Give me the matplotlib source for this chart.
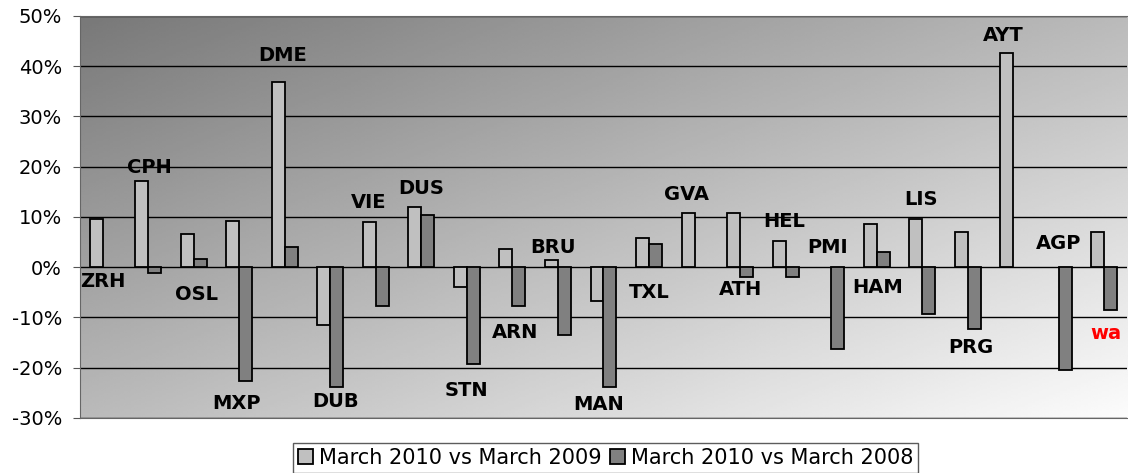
import numpy as np
import matplotlib
matplotlib.use('Agg')
import matplotlib.pyplot as plt
from matplotlib.ticker import PercentFormatter

plt.rcParams['axes.unicode_minus'] = False

nan = float('nan')

airports = ['ZRH', 'CPH', 'OSL', 'MXP', 'DME', 'DUB', 'VIE', 'DUS', 'STN', 'ARN', 'BRU', 'MAN',
            'TXL', 'GVA', 'ATH', 'HEL', 'PMI', 'HAM', 'LIS', 'PRG', 'AYT', 'AGP', 'wa']

# % change, March 2010 vs March 2009 (nan = no bar)
vs_2009 = [9.6, 17.1, 6.6, 9.3, 36.8, -11.5, 9.0, 11.9, -4.0, 3.7, 1.5, -6.7,
           5.9, 10.7, 10.8, 5.2, nan, 8.6, 9.6, 7.0, 42.7, nan, 7.0]
# % change, March 2010 vs March 2008
vs_2008 = [nan, -1.2, 1.6, -22.7, 4.1, -23.8, -7.8, 10.3, -19.3, -7.8, -13.4, -23.8,
           4.7, nan, -1.9, -1.9, -16.3, 3.0, -9.3, -12.3, nan, -20.4, -8.6]

# where each airport name sits (value axis) and small sideways nudge
label_y = [-2.8, 19.9, -5.5, -27.2, 42.2, -26.8, 12.9, 15.7, -24.6, -13.0, 3.9, -27.4,
           -5.0, 14.4, -4.5, 9.2, 3.9, -4.1, 13.5, -16.0, 46.2, 4.7, -13.2]
label_dx = [0.0, 0.02, 0.05, -0.07, -0.04, 0.12, -0.15, 0.0, 0.0, 0.05, -0.11, -0.1,
            0.0, -0.17, 0.02, -0.04, -0.07, 0.03, -0.02, 0.07, -0.22, 0.0, 0.04]

fig = plt.figure(figsize=(11.28, 4.73), dpi=100)
ax = fig.add_axes([0.0709, 0.1163, 0.9282, 0.8499])

# diagonal grey gradient background
u = np.linspace(0, 1, 300)
d = np.linspace(0, 1, 200)
U, D = np.meshgrid(u, d)
grad = 120 + 132 * (U + D) / 2
ax.imshow(grad, cmap='gray', vmin=0, vmax=255, extent=[0, 1, 0, 1],
          transform=ax.transAxes, aspect='auto', zorder=0, interpolation='bilinear')

x = np.arange(len(airports))
w = 0.285
ax.bar(x - w / 2, vs_2009, w, color='#c0c0c0', edgecolor='black', linewidth=1.3,
       label='March 2010 vs March 2009', zorder=3)
ax.bar(x + w / 2, vs_2008, w, color='#808080', edgecolor='black', linewidth=1.3,
       label='March 2010 vs March 2008', zorder=3)

for i, name in enumerate(airports):
    col = 'red' if name == 'wa' else 'black'
    ax.text(x[i] + label_dx[i], label_y[i], name, ha='center', va='center',
            fontsize=14, fontweight='bold', color=col, zorder=4)

ax.set_xlim(-0.5, len(airports) - 0.5)
ax.set_ylim(-30, 50)
ax.set_yticks(np.arange(-30, 51, 10))
ax.yaxis.set_major_formatter(PercentFormatter(decimals=0))
ax.set_xticks([])
ax.grid(axis='y', color='black', linewidth=1.0, zorder=1)
ax.set_axisbelow(True)
ax.tick_params(axis='y', labelsize=14, length=5, color='#555555', pad=8)
for s in ['top', 'left', 'bottom', 'right']:
    ax.spines[s].set_color('#666666')
ax.spines['right'].set_visible(False)

leg = fig.legend(loc='upper center', bbox_to_anchor=(0.537, 0.064), ncol=2,
                 fontsize=15, frameon=True, fancybox=False, handlelength=0.7,
                 handleheight=0.7, handletextpad=0.3, columnspacing=0.4,
                 borderpad=0.25, borderaxespad=0)
leg.get_frame().set_edgecolor('#333333')
leg.get_frame().set_linewidth(1.0)

fig.savefig('out.png', dpi=100)
